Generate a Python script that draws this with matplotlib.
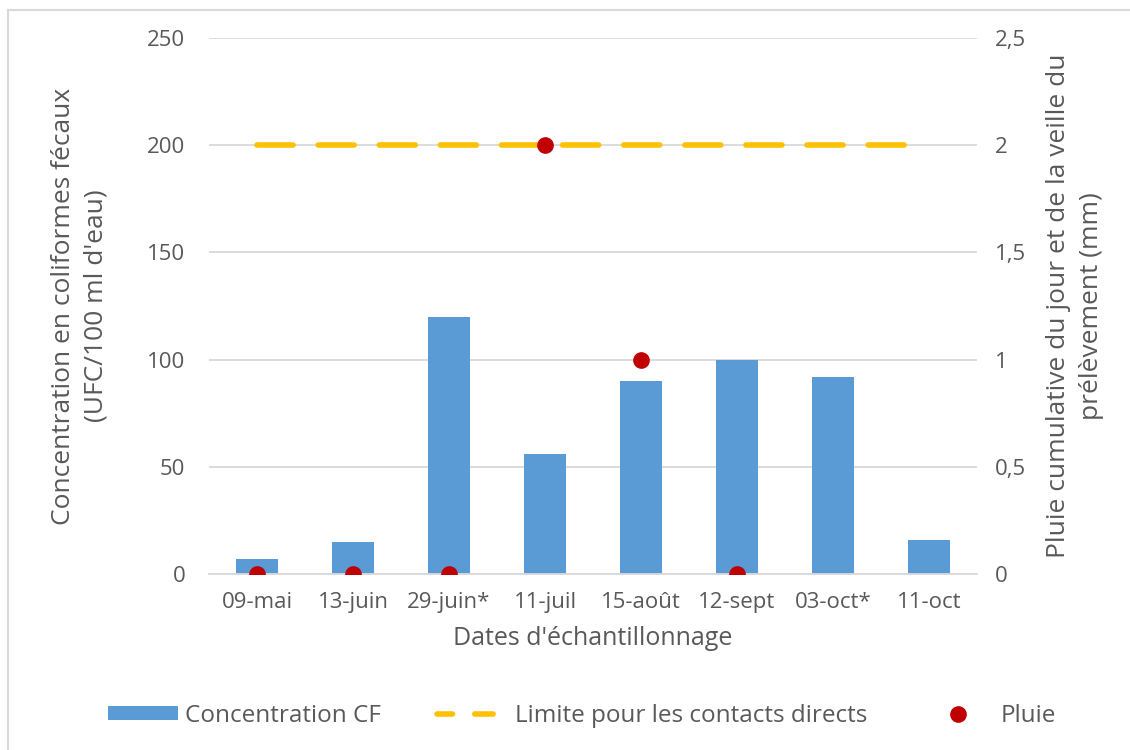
import numpy as np
import matplotlib.pyplot as plt
from matplotlib.lines import Line2D
from matplotlib.patches import Patch, Rectangle

plt.rcParams['font.family'] = ['Open Sans', 'DejaVu Sans']

dates = ['09-mai', '13-juin', '29-juin*', '11-juil', '15-août', '12-sept', '03-oct*', '11-oct']
concentration = [7, 15, 120, 56, 90, 100, 92, 16]
limite = [200, 200, 200, 200, 200, 200, 200, 200]
pluie = [0, 0, 0, 2, 1, 0, np.nan, np.nan]

gris = '#595959'
bleu = '#5B9BD5'
jaune = '#FFC000'
rouge = '#C00000'

fig = plt.figure(figsize=(11.3, 7.5), dpi=100)
ax = fig.add_axes([0.185, 0.2347, 0.6796, 0.7146])
ax2 = ax.twinx()

x = np.arange(len(dates))
ax.bar(x, concentration, width=0.43, color=bleu, zorder=2)
ax.plot(x, limite, color=jaune, lw=4, ls=(0, (6.5, 4.5)), dash_capstyle='round', zorder=3)
ax2.plot(x, pluie, 'o', color=rouge, ms=11, zorder=4)

ax.set_xlim(-0.5, len(dates) - 0.5)
ax.set_ylim(0, 250)
ax.set_yticks([0, 50, 100, 150, 200, 250])
ax2.set_ylim(0, 2.5)
ax2.set_yticks([0, 0.5, 1, 1.5, 2, 2.5])
ax2.set_yticklabels(['0', '0,5', '1', '1,5', '2', '2,5'])

ax.set_xticks(x)
ax.set_xticklabels(dates)
ax.yaxis.grid(True, color='#D9D9D9', lw=1.3, zorder=0)
ax.set_axisbelow(True)

for a in (ax, ax2):
    for s in a.spines.values():
        s.set_visible(False)
    a.tick_params(length=0, labelsize=16, colors=gris)
ax.spines['bottom'].set_visible(True)
ax.spines['bottom'].set_color('#D9D9D9')
ax.spines['bottom'].set_linewidth(1.3)
ax.tick_params(axis='y', pad=17)
ax.tick_params(axis='x', pad=13)
ax2.tick_params(axis='y', pad=13)

ax.set_ylabel("Concentration en coliformes fécaux\n(UFC/100 ml d'eau)",
              fontsize=19, color=gris, labelpad=28, linespacing=1.4)
ax2.set_ylabel("Pluie cumulative du jour et de la veille du\nprélèvement (mm)",
               fontsize=19, color=gris, labelpad=14, linespacing=1.45, rotation=90)
ax.set_xlabel("Dates d'échantillonnage", fontsize=18, color=gris, labelpad=9)

handles = [
    Patch(facecolor=bleu, edgecolor='none'),
    Line2D([], [], color=jaune, lw=4, ls=(0.5, (3.3, 4.0)), dash_capstyle='round'),
    Line2D([], [], marker='o', ls='none', color=rouge, ms=11),
]
labels = ['Concentration CF', 'Limite pour les contacts directs', 'Pluie']
fig.legend(handles, labels, loc='center', bbox_to_anchor=(0.515, 0.046), ncol=3,
           frameon=False, fontsize=17.5, labelcolor=gris, handlelength=2.9,
           handleheight=0.55, handletextpad=0.3, columnspacing=2.3)

# cadre du graphique
fig.add_artist(Rectangle((0.007, -0.1), 1.2, 1.087, transform=fig.transFigure,
                         fill=False, edgecolor='#D9D9D9', lw=1.5))

fig.savefig('out.png', dpi=100, facecolor='white')
